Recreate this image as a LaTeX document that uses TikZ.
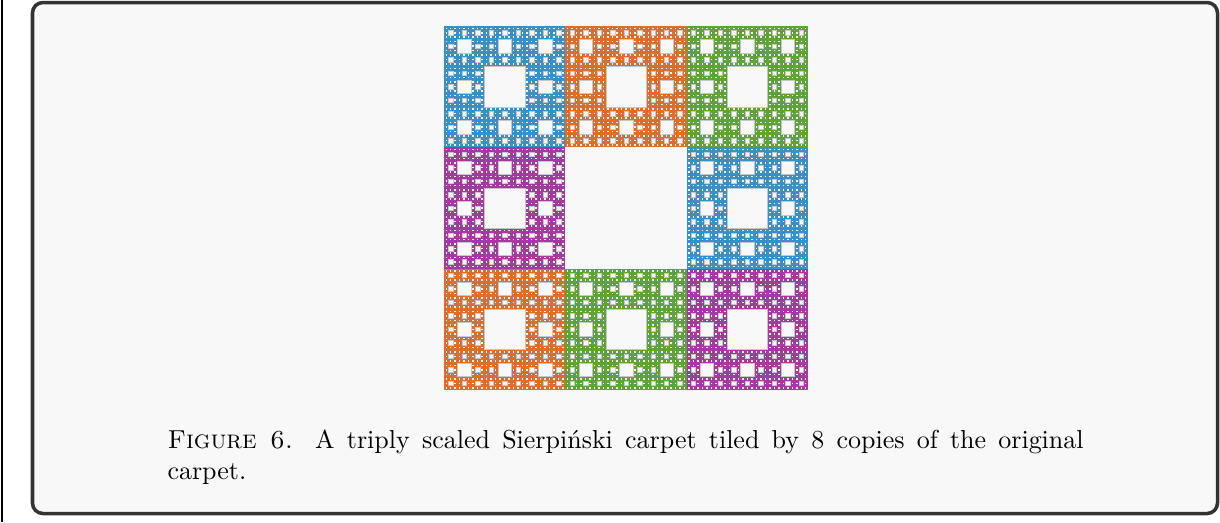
\documentclass[tikz,border=0pt]{standalone}
\usepackage{tikz}
\definecolor{bgc}{HTML}{F8F8F8}
\definecolor{framec}{HTML}{333333}
\definecolor{cblue}{HTML}{3A8FC4}
\definecolor{corange}{HTML}{D96E2E}
\definecolor{cgreen}{HTML}{5EA23A}
\definecolor{cpurple}{HTML}{A23AA0}
\tikzset{
  frame/.style={draw=framec, line width=1.35pt, fill=bgc, rounded corners=4pt},
  hole/.style={fill=bgc, draw=gray!45, line width=0.15pt},
  smallhole/.style={fill=bgc!80!white},
  caption/.style={anchor=base west, inner sep=0pt, text width=352.7pt, align=justify, font=\normalsize}
}
\newcommand\mycarpet[4]{% x y s color
  \fill[#4] (#1,#2) rectangle ++(#3,#3);
  \fill[hole] (#1+#3/3,#2+#3/3) rectangle ++(#3/3,#3/3);
  \foreach \a/\b in {0/0,1/0,2/0,0/1,2/1,0/2,1/2,2/2}{
    \fill[hole] (#1+\a*#3/3+#3/9, #2+\b*#3/3+#3/9) rectangle ++(#3/9,#3/9);
    \foreach \c/\d in {0/0,1/0,2/0,0/1,2/1,0/2,1/2,2/2}{
      \fill[hole] (#1+\a*#3/3+\c*#3/9+#3/27, #2+\b*#3/3+\d*#3/9+#3/27) rectangle ++(#3/27,#3/27);
      \foreach \e/\f in {0/0,1/0,2/0,0/1,2/1,0/2,1/2,2/2}{
        \fill[smallhole] (#1+\a*#3/3+\c*#3/9+\e*#3/27+#3/81, #2+\b*#3/3+\d*#3/9+\f*#3/27+#3/81) rectangle ++(#3/81,#3/81);
      }
    }
  }
}
\begin{document}
\begin{tikzpicture}[x=0.385pt,y=-0.385pt]
\useasboundingbox (0,0) rectangle (1220,522);
\fill[white] (0,0) rectangle (1220,522);
\draw[black, line width=0.4pt] (2,0) -- (2,522);
\draw[frame] (32.5,2.5) rectangle (1217.5,513.5);
\def\S{121.33}
\mycarpet{444}{26}{\S}{cblue}
\mycarpet{444+\S}{26}{\S}{corange}
\mycarpet{444+2*\S}{26}{\S}{cgreen}
\mycarpet{444}{26+\S}{\S}{cpurple}
\mycarpet{444+2*\S}{26+\S}{\S}{cblue}
\mycarpet{444}{26+2*\S}{\S}{corange}
\mycarpet{444+\S}{26+2*\S}{\S}{cgreen}
\mycarpet{444+2*\S}{26+2*\S}{\S}{cpurple}
\node[caption] (cap) at (167,448) {\textsc{Figure 6.}\hskip 6pt plus 3pt A triply scaled Sierpi\'nski carpet tiled by 8 copies of the original\linebreak carpet.};
\end{tikzpicture}
\end{document}
